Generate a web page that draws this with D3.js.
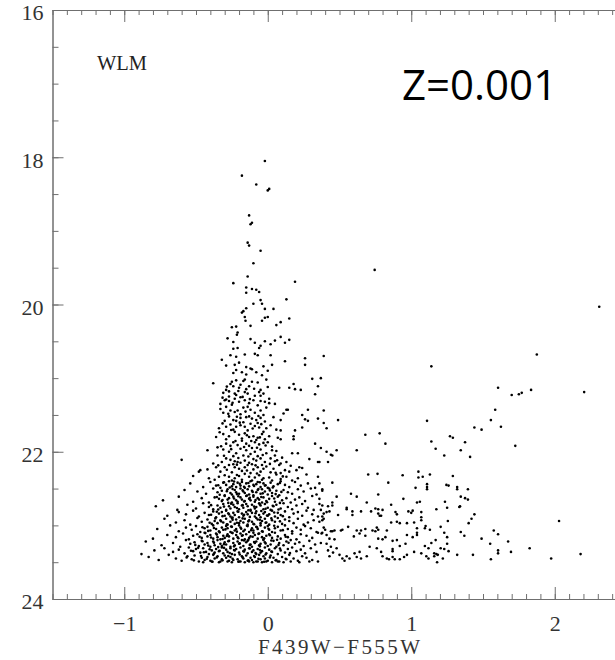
<!DOCTYPE html>
<html>
<head>
<meta charset="utf-8">
<script src="https://cdn.jsdelivr.net/npm/d3@7"></script>
<style>
  body { margin: 0; background: #fff; }
  .axis text { font-family: "Liberation Serif", serif; font-size: 22px; fill: #333; }
  .axis line, .axis path { stroke: #6f6f6f; }
</style>
</head>
<body>
<svg id="cmd" width="615" height="660"></svg>
<script>
// tick labels
let colorTicks = [-1, 0, 1, 2]
let magTicks = [16, 18, 20, 22, 24]

// stars: [F439W-F555W, F555W]
let brightPlume = [[-0.02,18.05],[-0.18,18.25],[-0.08,18.37],[0.00,18.45],[0.01,18.43],[-0.13,18.79],[-0.12,18.91],[-0.11,18.89],[-0.14,19.16],[-0.13,19.20],[-0.05,19.27],[-0.10,19.44],[-0.14,19.62],[0.19,19.69],[-0.24,19.71],[-0.15,19.77],[-0.11,19.79],[-0.08,19.80],[-0.06,19.83],[-0.15,19.84],[-0.05,19.94],[-0.04,19.99],[0.13,19.93],[-0.10,19.99],[-0.15,20.05],[-0.17,20.09],[-0.18,20.11],[-0.02,20.06],[0.04,20.06],[-0.16,20.17],[-0.155,20.22],[0.00,20.17],[-0.02,20.18],[-0.04,20.22],[0.15,20.19],[0.09,20.24],[0.06,20.28],[-0.25,20.31],[-0.22,20.30],[-0.12,20.29],[-0.21,20.38],[-0.215,20.41],[-0.28,20.46],[-0.12,20.47],[-0.09,20.52],[-0.02,20.50],[0.02,20.54],[0.05,20.49],[0.09,20.44],[0.12,20.52],[0.15,20.48],[-0.24,20.51],[-0.05,20.56],[0.745,19.53]]

let upperMS = [[-0.24,20.60],[-0.21,20.59],[-0.06,20.59],
  [-0.32,20.75],[-0.26,20.69],[-0.22,20.71],[-0.16,20.68],[-0.09,20.67],[-0.07,20.69],[0.02,20.69],[0.12,20.77],[0.26,20.73],
  [-0.29,20.83],[-0.23,20.82],[-0.20,20.79],[-0.15,20.85],[-0.12,20.87],[-0.03,20.84],[0.03,20.82],[0.26,20.82],
  [-0.24,20.93],[-0.22,20.89],[-0.18,20.92],[-0.15,20.95],[-0.11,20.88],[-0.08,20.92],[-0.04,20.96],[0.00,20.90],
  [-0.38,21.07],[-0.25,21.05],[-0.22,21.03],[-0.17,21.04],[-0.16,21.02],[-0.07,21.06],[-0.01,21.02],[0.31,21.01],
  [-0.24,21.11],[-0.20,21.13],[-0.15,21.15],[-0.13,21.11],[-0.05,21.16],[0.00,21.12],[0.08,21.13],[0.15,21.13],[0.18,21.08],[0.19,21.15],[0.23,21.16],[0.35,21.11],
  [-0.31,21.20],[-0.29,21.16],[-0.27,21.18],[-0.23,21.21],[-0.22,21.23],[-0.16,21.19],[-0.14,21.21],[-0.06,21.19],[-0.05,21.24],[-0.03,21.21],[0.33,21.22],
  [-0.33,21.35],[-0.30,21.30],[-0.29,21.29],[-0.27,21.31],[-0.23,21.28],[-0.20,21.32],[-0.16,21.30],[-0.10,21.30],[-0.05,21.31],[-0.02,21.32],[0.01,21.28],[0.01,21.34],[0.05,21.35],[0.13,21.43],[0.14,21.43],
  [-0.33,21.42],[-0.29,21.39],[-0.26,21.44],[-0.23,21.46],[-0.21,21.44],[-0.17,21.40],[-0.14,21.39],[-0.12,21.43],[-0.05,21.44],[-0.01,21.40],[0.04,21.53],[0.11,21.48],[0.24,21.50],[0.28,21.43],
  [-0.27,21.52],[-0.24,21.57],[-0.22,21.58],[-0.19,21.54],[-0.15,21.53],[-0.13,21.52],[-0.11,21.55],[-0.08,21.57],[-0.05,21.54],[-0.02,21.59],[0.09,21.57],[0.26,21.56],[0.35,21.55],[0.28,21.58],
  [-0.34,21.68],[-0.29,21.66],[-0.26,21.63],[-0.22,21.66],[-0.19,21.64],[-0.16,21.66],[-0.12,21.62],[-0.09,21.65],[-0.06,21.67],[-0.01,21.68],[0.02,21.64],[0.06,21.70],[0.09,21.71],[0.19,21.71],[0.24,21.67],
  [-0.36,21.80],[-0.31,21.76],[-0.27,21.79],[-0.23,21.73],[-0.20,21.77],[-0.16,21.75],[-0.13,21.80],[-0.10,21.79],[-0.07,21.81],[-0.04,21.76],[0.01,21.79],[0.07,21.81],[0.09,21.83],[0.18,21.79],[0.18,21.83],
  [-0.35,21.94],[-0.29,21.89],[-0.24,21.87],[-0.21,21.91],[-0.18,21.85],[-0.15,21.89],[-0.13,21.92],[-0.09,21.87],[-0.06,21.90],[-0.03,21.88],[0.00,21.87],[0.06,21.99],[0.33,21.89],
  [-0.42,21.98],[-0.31,21.97],[-0.27,22.00],[-0.22,22.02],[-0.19,21.96],[-0.15,21.98],[-0.12,22.03],[-0.09,22.00],[-0.05,21.97],[-0.01,22.02],[0.03,21.98],[0.17,22.02],[0.21,22.02],[0.29,22.10],[0.35,22.14],
  [-0.60,22.11],[-0.29,22.09],[-0.26,22.11],[-0.23,22.13],[-0.21,22.14],[-0.19,22.15],[-0.16,22.12],[-0.13,22.15],[-0.10,22.10],[-0.08,22.12],[-0.05,22.09],[-0.02,22.14],[0.02,22.09],[0.09,22.16],[0.13,22.14],[0.16,22.19],[0.22,22.21],
  [-0.47,22.25],[-0.48,22.27],[-0.42,22.24],[-0.36,22.21],[-0.30,22.21],[-0.27,22.18],[-0.23,22.21],[-0.20,22.23],[-0.16,22.21],[-0.14,22.18],[-0.10,22.24],[-0.07,22.21],[-0.03,22.23],[-0.01,22.20],[0.04,22.23],[0.08,22.18],[0.12,22.25],[0.15,22.27],[0.20,22.25],[0.27,22.31],
  [-0.41,22.36],[-0.34,22.34],[-0.30,22.32],[-0.27,22.34],[-0.23,22.36],[-0.20,22.33],[-0.16,22.30],[-0.13,22.34],[-0.09,22.35],[-0.06,22.32],[-0.03,22.36],[0.01,22.35],[0.06,22.31],[0.13,22.34],[0.21,22.36],[0.35,22.34],
  [-0.26,21.08],[-0.19,21.09],[-0.11,21.05],[-0.27,21.25],[-0.19,21.26],[-0.09,21.24],[-0.25,21.36],[-0.13,21.34],[-0.07,21.37],[-0.31,21.47],[-0.19,21.49],[-0.09,21.47],[-0.03,21.50],[-0.30,21.58],[-0.17,21.60],[-0.07,21.61],[-0.24,21.70],[-0.14,21.71],[-0.03,21.73],[-0.29,21.83],[-0.18,21.82],[-0.08,21.84],[-0.02,21.83],[-0.26,21.92],[-0.11,21.95],[0.03,21.93],[-0.35,22.05],[-0.24,22.06],[-0.17,22.05],[-0.07,22.06],[0.05,22.05],[0.10,22.08],[-0.38,22.16],[-0.32,22.14],[-0.24,22.17],[-0.11,22.17],[-0.04,22.18],[0.05,22.13],[-0.33,22.27],[-0.25,22.28],[-0.18,22.26],[-0.12,22.29],[-0.05,22.27],[0.02,22.28],[0.09,22.29],[-0.37,22.38],[-0.25,22.39],[-0.18,22.38],[-0.11,22.39],[-0.04,22.38],[0.03,22.39],[0.09,22.37],[0.17,22.39],[-0.52,22.33],[0.24,22.22],
  [-0.285,21.115],[-0.205,21.175],[-0.095,21.145],[-0.315,21.265],[-0.245,21.335],[-0.175,21.255],[-0.125,21.285],[-0.275,21.485],[-0.215,21.525],[-0.155,21.455],[-0.065,21.515],[-0.315,21.615],[-0.255,21.705],[-0.195,21.605],[-0.105,21.685],[-0.045,21.625],[-0.335,21.735],[-0.225,21.855],[-0.145,21.775],[-0.115,21.855],[-0.055,21.805],[-0.325,21.925],[-0.255,21.965],[-0.165,21.935],[-0.075,21.945],[-0.015,21.915],[-0.305,22.055],[-0.205,22.085],[-0.135,22.065],[-0.035,22.045],[0.065,22.115],[-0.345,22.185],[-0.285,22.245],[-0.215,22.175],[-0.145,22.255],[-0.085,22.185],[0.015,22.165],[0.055,22.285],[-0.215,22.315],[-0.075,22.295],[0.105,22.335]]

let lowerMS = [
  [-0.54,22.43],[-0.45,22.48],[-0.40,22.41],[-0.36,22.46],[-0.33,22.49],[-0.31,22.42],[-0.29,22.45],[-0.27,22.40],[-0.25,22.47],[-0.24,22.44],[-0.22,22.48],[-0.21,22.42],[-0.19,22.46],[-0.18,22.41],[-0.16,22.49],[-0.15,22.43],[-0.13,22.47],[-0.12,22.40],[-0.10,22.45],[-0.08,22.44],[-0.07,22.41],[-0.05,22.48],[-0.03,22.43],[-0.02,22.46],[0.00,22.49],[0.02,22.42],[0.04,22.47],[0.07,22.44],[0.09,22.40],[0.12,22.45],[0.15,22.48],[0.19,22.41],[0.23,22.46],[0.28,22.43],[0.33,22.49],
  [-0.58,22.52],[-0.49,22.54],[-0.43,22.57],[-0.38,22.50],[-0.35,22.55],[-0.32,22.53],[-0.30,22.59],[-0.28,22.51],[-0.26,22.56],[-0.25,22.58],[-0.23,22.52],[-0.22,22.55],[-0.20,22.57],[-0.19,22.50],[-0.17,22.54],[-0.16,22.56],[-0.14,22.51],[-0.13,22.58],[-0.11,22.53],[-0.10,22.59],[-0.08,22.55],[-0.07,22.52],[-0.05,22.57],[-0.04,22.51],[-0.02,22.54],[0.00,22.58],[0.01,22.50],[0.03,22.56],[0.06,22.53],[0.08,22.59],[0.11,22.52],[0.14,22.55],[0.17,22.57],[0.21,22.51],[0.25,22.54],[0.30,22.50],[0.34,22.58],
  [-0.73,22.66],[-0.62,22.61],[-0.52,22.68],[-0.46,22.63],[-0.41,22.69],[-0.37,22.62],[-0.34,22.64],[-0.32,22.67],[-0.30,22.60],[-0.28,22.65],[-0.27,22.63],[-0.25,22.69],[-0.24,22.61],[-0.22,22.66],[-0.21,22.68],[-0.19,22.62],[-0.18,22.65],[-0.16,22.67],[-0.15,22.60],[-0.13,22.64],[-0.12,22.66],[-0.10,22.61],[-0.09,22.68],[-0.07,22.63],[-0.06,22.65],[-0.04,22.69],[-0.03,22.62],[-0.01,22.67],[0.01,22.64],[0.03,22.60],[0.05,22.68],[0.07,22.61],[0.10,22.66],[0.13,22.63],[0.16,22.69],[0.19,22.65],[0.22,22.62],[0.26,22.67],[0.31,22.60],[0.36,22.64],
  [-0.78,22.74],[-0.63,22.79],[-0.56,22.72],[-0.50,22.77],[-0.45,22.70],[-0.41,22.75],[-0.38,22.78],[-0.35,22.73],[-0.33,22.76],[-0.31,22.71],[-0.29,22.79],[-0.27,22.74],[-0.26,22.77],[-0.24,22.72],[-0.23,22.75],[-0.21,22.70],[-0.20,22.78],[-0.18,22.73],[-0.17,22.76],[-0.15,22.71],[-0.14,22.74],[-0.12,22.79],[-0.11,22.72],[-0.09,22.77],[-0.08,22.75],[-0.06,22.70],[-0.05,22.73],[-0.03,22.78],[-0.02,22.71],[0.00,22.76],[0.02,22.79],[0.04,22.74],[0.06,22.72],[0.09,22.77],[0.11,22.70],[0.14,22.75],[0.17,22.78],[0.20,22.73],[0.24,22.71],[0.28,22.76],[0.32,22.79],
  [-0.70,22.87],[-0.62,22.82],[-0.57,22.85],[-0.52,22.80],[-0.48,22.88],[-0.44,22.83],[-0.41,22.86],[-0.38,22.81],[-0.36,22.89],[-0.34,22.84],[-0.32,22.82],[-0.30,22.87],[-0.29,22.80],[-0.27,22.85],[-0.26,22.88],[-0.24,22.83],[-0.23,22.86],[-0.21,22.81],[-0.20,22.89],[-0.18,22.84],[-0.17,22.87],[-0.15,22.82],[-0.14,22.85],[-0.12,22.80],[-0.11,22.83],[-0.09,22.88],[-0.08,22.81],[-0.06,22.86],[-0.05,22.89],[-0.03,22.84],[-0.02,22.82],[0.00,22.87],[0.01,22.85],[0.03,22.80],[0.05,22.88],[0.07,22.83],[0.09,22.86],[0.12,22.81],[0.15,22.89],[0.18,22.84],[0.21,22.82],[0.24,22.87],[0.27,22.80],[0.31,22.85],[0.35,22.88],
  [-0.72,22.91],[-0.64,22.96],[-0.58,22.93],[-0.54,22.99],[-0.49,22.90],[-0.46,22.95],[-0.42,22.92],[-0.39,22.98],[-0.37,22.94],[-0.35,22.97],[-0.33,22.93],[-0.31,22.96],[-0.29,22.91],[-0.28,22.99],[-0.26,22.95],[-0.25,22.90],[-0.23,22.98],[-0.22,22.92],[-0.20,22.97],[-0.19,22.94],[-0.17,22.96],[-0.16,22.91],[-0.14,22.99],[-0.13,22.93],[-0.11,22.95],[-0.10,22.98],[-0.08,22.90],[-0.07,22.92],[-0.05,22.97],[-0.04,22.94],[-0.02,22.91],[-0.01,22.96],[0.01,22.99],[0.03,22.93],[0.05,22.95],[0.07,22.90],[0.10,22.98],[0.12,22.92],[0.15,22.94],[0.18,22.97],[0.21,22.91],[0.25,22.99],[0.28,22.96],[0.32,22.93],[0.36,22.95],
  [-0.77,23.05],[-0.68,23.00],[-0.62,23.08],[-0.57,23.03],[-0.53,23.06],[-0.50,23.01],[-0.47,23.09],[-0.44,23.04],[-0.42,23.02],[-0.40,23.07],[-0.38,23.00],[-0.36,23.05],[-0.34,23.08],[-0.32,23.03],[-0.31,23.06],[-0.29,23.01],[-0.28,23.04],[-0.26,23.09],[-0.25,23.02],[-0.23,23.07],[-0.22,23.05],[-0.20,23.00],[-0.19,23.03],[-0.17,23.08],[-0.16,23.06],[-0.14,23.01],[-0.13,23.09],[-0.11,23.04],[-0.10,23.07],[-0.08,23.02],[-0.07,23.05],[-0.05,23.00],[-0.04,23.08],[-0.02,23.03],[0.00,23.01],[0.01,23.06],[0.03,23.09],[0.05,23.04],[0.07,23.02],[0.09,23.07],[0.12,23.00],[0.14,23.05],[0.17,23.08],[0.20,23.03],[0.23,23.06],[0.26,23.01],[0.30,23.04],[0.34,23.09],
  [-0.80,23.18],[-0.70,23.13],[-0.64,23.16],[-0.59,23.11],[-0.55,23.19],[-0.52,23.14],[-0.49,23.12],[-0.46,23.17],[-0.44,23.10],[-0.42,23.15],[-0.40,23.13],[-0.38,23.18],[-0.36,23.11],[-0.35,23.16],[-0.33,23.19],[-0.31,23.14],[-0.30,23.17],[-0.28,23.12],[-0.27,23.15],[-0.25,23.10],[-0.24,23.18],[-0.22,23.13],[-0.21,23.16],[-0.19,23.11],[-0.18,23.14],[-0.16,23.19],[-0.15,23.12],[-0.13,23.17],[-0.12,23.15],[-0.10,23.10],[-0.09,23.13],[-0.07,23.18],[-0.06,23.11],[-0.04,23.16],[-0.03,23.19],[-0.01,23.14],[0.01,23.12],[0.03,23.17],[0.05,23.10],[0.07,23.15],[0.09,23.18],[0.12,23.13],[0.14,23.16],[0.17,23.11],[0.20,23.19],[0.23,23.12],[0.27,23.14],[0.31,23.17],[0.35,23.10],
  [-0.85,23.22],[-0.74,23.27],[-0.66,23.24],[-0.61,23.29],[-0.57,23.20],[-0.54,23.25],[-0.51,23.23],[-0.48,23.28],[-0.46,23.21],[-0.44,23.26],[-0.42,23.24],[-0.40,23.29],[-0.38,23.22],[-0.37,23.27],[-0.35,23.20],[-0.33,23.25],[-0.32,23.28],[-0.30,23.23],[-0.29,23.26],[-0.27,23.21],[-0.26,23.29],[-0.24,23.24],[-0.23,23.27],[-0.21,23.22],[-0.20,23.25],[-0.18,23.20],[-0.17,23.28],[-0.15,23.23],[-0.14,23.21],[-0.12,23.26],[-0.11,23.29],[-0.09,23.24],[-0.08,23.22],[-0.06,23.27],[-0.05,23.25],[-0.03,23.20],[-0.02,23.23],[0.00,23.28],[0.02,23.26],[0.04,23.21],[0.06,23.29],[0.08,23.24],[0.11,23.27],[0.13,23.22],[0.16,23.20],[0.19,23.25],[0.22,23.23],[0.25,23.28],[0.29,23.21],[0.33,23.26],[0.37,23.24],
  [-0.88,23.39],[-0.79,23.34],[-0.72,23.31],[-0.66,23.36],[-0.62,23.33],[-0.58,23.38],[-0.55,23.30],[-0.52,23.35],[-0.50,23.32],[-0.47,23.37],[-0.45,23.31],[-0.43,23.36],[-0.41,23.39],[-0.39,23.34],[-0.37,23.37],[-0.36,23.32],[-0.34,23.35],[-0.32,23.30],[-0.31,23.38],[-0.29,23.33],[-0.28,23.36],[-0.26,23.31],[-0.25,23.39],[-0.23,23.34],[-0.22,23.32],[-0.20,23.37],[-0.19,23.30],[-0.17,23.35],[-0.16,23.33],[-0.14,23.38],[-0.13,23.31],[-0.11,23.36],[-0.10,23.34],[-0.08,23.39],[-0.07,23.32],[-0.05,23.37],[-0.04,23.35],[-0.02,23.30],[-0.01,23.38],[0.01,23.33],[0.03,23.36],[0.05,23.31],[0.07,23.39],[0.09,23.34],[0.12,23.37],[0.14,23.32],[0.17,23.30],[0.20,23.35],[0.23,23.33],[0.26,23.38],[0.30,23.31],[0.34,23.36],
  [-0.83,23.43],[-0.76,23.47],[-0.69,23.40],[-0.64,23.45],[-0.60,23.48],[-0.56,23.42],[-0.53,23.46],[-0.51,23.41],[-0.48,23.49],[-0.46,23.44],[-0.44,23.47],[-0.42,23.43],[-0.40,23.48],[-0.38,23.40],[-0.37,23.45],[-0.35,23.42],[-0.33,23.49],[-0.32,23.46],[-0.30,23.41],[-0.29,23.44],[-0.27,23.48],[-0.26,23.43],[-0.24,23.47],[-0.23,23.40],[-0.21,23.46],[-0.20,23.49],[-0.18,23.42],[-0.17,23.45],[-0.15,23.41],[-0.14,23.48],[-0.12,23.44],[-0.11,23.47],[-0.09,23.43],[-0.08,23.49],[-0.06,23.40],[-0.05,23.46],[-0.03,23.42],[-0.02,23.45],[0.00,23.48],[0.02,23.41],[0.04,23.44],[0.06,23.47],[0.08,23.49],[0.10,23.43],[0.13,23.46],[0.15,23.40],[0.18,23.45],[0.21,23.48],[0.24,23.42],[0.27,23.44],[0.31,23.47],[0.35,23.49],
  [-0.45,23.50],[-0.39,23.49],[-0.34,23.50],[-0.28,23.49],[-0.25,23.50],[-0.19,23.49],[-0.16,23.50],[-0.13,23.49],[-0.10,23.50],[-0.07,23.49],[-0.04,23.50],[-0.01,23.49],[0.03,23.50],[0.07,23.49],[0.11,23.50],[0.16,23.49],[0.22,23.50],[0.29,23.49]]

let lowerCore = [
  [-0.345,22.455],[-0.305,22.415],[-0.265,22.485],[-0.235,22.405],[-0.195,22.435],[-0.165,22.475],[-0.135,22.425],[-0.095,22.465],[-0.055,22.415],[-0.015,22.455],[0.035,22.485],[0.085,22.425],
  [-0.335,22.585],[-0.285,22.535],[-0.245,22.505],[-0.215,22.575],[-0.175,22.525],[-0.145,22.595],[-0.105,22.545],[-0.065,22.505],[-0.035,22.565],[0.015,22.525],[0.055,22.575],[0.095,22.545],
  [-0.355,22.615],[-0.315,22.655],[-0.275,22.695],[-0.235,22.635],[-0.205,22.605],[-0.165,22.675],[-0.125,22.625],[-0.085,22.655],[-0.045,22.615],[-0.005,22.685],[0.045,22.635],[0.085,22.695],
  [-0.395,22.725],[-0.345,22.785],[-0.305,22.745],[-0.255,22.705],[-0.215,22.765],[-0.175,22.725],[-0.135,22.795],[-0.095,22.745],[-0.055,22.715],[-0.015,22.775],[0.035,22.735],[0.075,22.785],
  [-0.395,22.855],[-0.355,22.815],[-0.315,22.875],[-0.275,22.835],[-0.245,22.895],[-0.205,22.815],[-0.165,22.855],[-0.125,22.885],[-0.085,22.835],[-0.045,22.805],[-0.005,22.865],[0.045,22.825],[0.105,22.875],
  [-0.405,22.965],[-0.365,22.905],[-0.325,22.945],[-0.285,22.985],[-0.245,22.925],[-0.215,22.965],[-0.175,22.905],[-0.135,22.945],[-0.095,22.985],[-0.055,22.925],[-0.015,22.965],[0.025,22.905],[0.085,22.945],
  [-0.455,23.025],[-0.415,23.075],[-0.375,23.035],[-0.335,23.095],[-0.295,23.055],[-0.255,23.015],[-0.215,23.085],[-0.185,23.045],[-0.145,23.005],[-0.115,23.065],[-0.075,23.025],[-0.035,23.085],[0.005,23.045],[0.045,23.005],[0.105,23.065],
  [-0.475,23.155],[-0.435,23.105],[-0.395,23.165],[-0.355,23.125],[-0.315,23.185],[-0.285,23.145],[-0.245,23.105],[-0.205,23.175],[-0.175,23.135],[-0.135,23.195],[-0.105,23.155],[-0.065,23.115],[-0.025,23.175],[0.015,23.135],[0.065,23.195],[0.125,23.155],
  [-0.505,23.265],[-0.455,23.215],[-0.415,23.275],[-0.375,23.235],[-0.345,23.295],[-0.305,23.255],[-0.275,23.215],[-0.235,23.285],[-0.195,23.245],[-0.165,23.205],[-0.125,23.265],[-0.095,23.225],[-0.055,23.285],[-0.015,23.245],[0.025,23.205],[0.075,23.265],[0.145,23.235],
  [-0.535,23.345],[-0.485,23.305],[-0.445,23.365],[-0.405,23.325],[-0.375,23.385],[-0.335,23.345],[-0.305,23.305],[-0.265,23.375],[-0.235,23.335],[-0.195,23.395],[-0.165,23.355],[-0.125,23.315],[-0.085,23.375],[-0.055,23.335],[-0.015,23.395],[0.025,23.355],[0.085,23.315],[0.155,23.375],
  [-0.565,23.435],[-0.515,23.475],[-0.465,23.415],[-0.425,23.455],[-0.385,23.495],[-0.355,23.435],[-0.315,23.475],[-0.275,23.415],[-0.245,23.455],[-0.205,23.495],[-0.175,23.435],[-0.135,23.475],[-0.095,23.415],[-0.065,23.455],[-0.025,23.495],[0.015,23.435],[0.055,23.475],[0.125,23.455]]

let redSide = [[2.31,20.03],[0.39,20.70],[0.37,21.00],[1.14,20.84],[1.875,20.68],[1.605,21.13],[1.70,21.23],[1.75,21.22],[1.77,21.20],[1.835,21.16],[2.205,21.19],[0.39,21.44],[0.39,21.61],[0.41,21.68],[0.49,21.57],[1.585,21.43],[1.555,21.57],[1.625,21.66],[1.44,21.67],[1.49,21.70],[1.11,21.58],[0.68,21.77],[0.78,21.75],[0.82,21.89],[0.62,21.98],[1.27,21.79],[1.29,21.81],[1.14,21.86],[1.17,21.96],[1.375,21.87],[1.345,21.98],[1.23,22.05],[1.41,22.07],[1.725,21.92],[0.37,21.95],[0.41,22.00],[0.44,22.04],[0.45,22.05],[0.48,21.98],[0.36,22.14],[0.42,22.14],[0.45,22.42],[0.36,22.43],[0.38,22.51],[0.38,22.53],[0.48,22.61],[0.58,22.57],[0.62,22.61],[0.70,22.31],[0.765,22.30],[0.84,22.42],[0.94,22.32],[1.05,22.27],[1.05,22.35],[1.08,22.34],[1.13,22.31],[1.29,22.33],[1.03,22.49],[1.11,22.44],[1.11,22.48],[1.11,22.51],[1.245,22.45],[1.26,22.46],[1.32,22.48],[1.32,22.51],[1.395,22.51],[1.345,22.61],[1.375,22.63],[1.395,22.65],[0.945,22.64],[0.77,22.58],[0.69,22.69],[0.86,22.72],[1.04,22.69],[1.06,22.68],[1.235,22.68],[1.34,22.74],[1.335,22.75],[1.25,22.76],[1.44,22.85],[1.42,22.91],[1.40,22.97],[0.55,22.76],[0.55,22.78],[0.59,22.81],[0.59,22.86],[0.65,22.81],[0.72,22.81],[0.75,22.77],[0.77,22.78],[0.80,22.79],[0.79,22.87],[0.89,22.82],[0.90,22.85],[0.98,22.81],[1.00,22.83],[1.01,22.80],[1.07,22.82],[1.07,22.89],[1.175,22.78],[1.255,22.94],[1.13,23.06],[1.07,22.93],[1.02,22.96],[0.97,22.97],[0.92,22.97],[0.90,22.95],[0.86,22.96],[0.83,23.07],[0.77,22.84],[0.78,22.87],[0.76,23.03],[0.77,23.06],[0.73,23.07],[0.75,23.08],[0.62,23.07],[0.65,23.07],[0.68,23.05],[0.64,23.11],[0.68,23.14],[0.56,23.02],[0.51,23.07],[0.52,23.06],[0.465,23.07],[0.45,23.08],[0.44,23.08],[0.39,23.03],[0.40,23.06],[0.38,23.10],[0.375,23.11],[0.60,23.15],[0.77,23.18],[0.80,23.19],[0.82,23.16],[0.87,23.21],[0.90,23.20],[0.92,23.28],[0.96,23.25],[0.97,23.13],[0.87,23.32],[0.87,23.35],[1.01,23.16],[1.04,23.04],[1.04,23.10],[1.04,23.13],[1.10,23.01],[1.095,23.04],[1.205,23.02],[1.23,23.10],[1.25,23.16],[1.25,23.25],[1.17,23.20],[1.14,23.24],[1.12,23.31],[1.205,23.31],[1.23,23.32],[1.095,23.28],[1.07,23.38],[1.105,23.42],[1.12,23.45],[1.16,23.38],[1.175,23.39],[1.185,23.40],[1.16,23.42],[1.18,23.50],[1.22,23.45],[1.26,23.35],[1.32,23.40],[1.43,23.40],[1.49,23.18],[1.55,23.25],[1.37,23.14],[1.345,23.09],[1.555,23.46],[1.575,23.07],[1.605,23.12],[1.605,23.34],[1.605,23.38],[1.675,23.22],[1.695,23.36],[1.825,23.31],[1.975,23.45],[2.03,22.94],[2.18,23.39],
  [0.36,22.71],[0.38,22.73],[0.42,22.74],[0.45,22.73],[0.45,22.69],[0.37,22.79],[0.39,22.84],[0.41,22.82],[0.43,22.81],[0.38,22.88],[0.39,22.91],[0.38,22.93],[0.49,22.86],[0.41,23.13],[0.43,23.18],[0.465,23.19],[0.41,23.25],[0.44,23.29],[0.48,23.31],[0.42,23.34],[0.455,23.37],[0.50,23.40],[0.43,23.42],[0.55,23.42],[0.52,23.45],[0.57,23.45],[0.62,23.43],[0.65,23.45],[0.535,23.48],[0.605,23.38],[0.64,23.36],[0.69,23.42],[0.71,23.29],[0.76,23.31],[0.79,23.36],[0.80,23.42],[0.83,23.45],[0.845,23.46],[0.87,23.43],[0.885,23.46],[0.92,23.46],[0.95,23.43],[0.97,23.40],[1.02,23.36]]

function main() {
    let svg = d3.select('#cmd'),
        left = 52.5, right = 626.5, top = 10, bottom = 599

    let xScale = d3.scaleLinear().domain([-1.5, 2.5]).range([left, right]),
        yScale = d3.scaleLinear().domain([16, 24]).range([top, bottom])

    let minorX = d3.range(-15, 26).map(i => i / 10),
        minorY = d3.range(32, 49).map(i => i / 2)

    // frame with inward ticks on all four sides
    let addAxis = (axis, transform) =>
        svg.append('g').attr('class', 'axis').attr('transform', transform).call(axis)

    addAxis(d3.axisBottom(xScale).tickValues(minorX).tickSize(-5).tickSizeOuter(0).tickFormat(''), 'translate(0,' + bottom + ')')
    addAxis(d3.axisBottom(xScale).tickValues(colorTicks).tickSize(-12).tickSizeOuter(0).tickPadding(16)
        .tickFormat(d => d < 0 ? '\u2212' + Math.abs(d) : d), 'translate(0,' + bottom + ')')
        .selectAll('text').attr('dy', '0.72em')
    addAxis(d3.axisTop(xScale).tickValues(minorX).tickSize(-5).tickSizeOuter(0).tickFormat(''), 'translate(0,' + top + ')')
    addAxis(d3.axisTop(xScale).tickValues(colorTicks).tickSize(-12).tickSizeOuter(0).tickFormat(''), 'translate(0,' + top + ')')
    addAxis(d3.axisLeft(yScale).tickValues(minorY).tickSize(-6).tickSizeOuter(0).tickFormat(''), 'translate(' + left + ',0)')
    addAxis(d3.axisLeft(yScale).tickValues(magTicks).tickSize(-11).tickSizeOuter(0).tickPadding(9), 'translate(' + left + ',0)')
        .selectAll('text').attr('dy', '0.45em')
    addAxis(d3.axisRight(yScale).tickValues(minorY).tickSize(-6).tickSizeOuter(0).tickFormat(''), 'translate(' + right + ',0)')

    let stars = brightPlume.concat(upperMS, lowerMS, lowerCore, redSide)
    svg.append('g')
        .selectAll('circle')
        .data(stars)
        .enter()
        .append('circle')
        .attr('cx', d => xScale(d[0]))
        .attr('cy', d => yScale(d[1]))
        .attr('r', 1.3)
        .attr('fill', '#000')

    svg.append('text')
        .attr('x', 97).attr('y', 70)
        .attr('font-family', '"Liberation Serif", serif').attr('font-size', 22)
        .attr('fill', '#222')
        .attr('textLength', 50).attr('lengthAdjust', 'spacingAndGlyphs')
        .text('WLM')

    svg.append('text')
        .attr('x', 402).attr('y', 100)
        .attr('font-family', '"Open Sans", sans-serif').attr('font-size', 42)
        .attr('fill', '#000')
        .text('Z=0.001')

    svg.append('text')
        .attr('x', 258).attr('y', 654)
        .attr('font-family', '"Liberation Serif", serif').attr('font-size', 21)
        .attr('fill', '#333')
        .attr('textLength', 162).attr('lengthAdjust', 'spacing')
        .text('F439W\u2212F555W')
}

main()
</script>
</body>
</html>
